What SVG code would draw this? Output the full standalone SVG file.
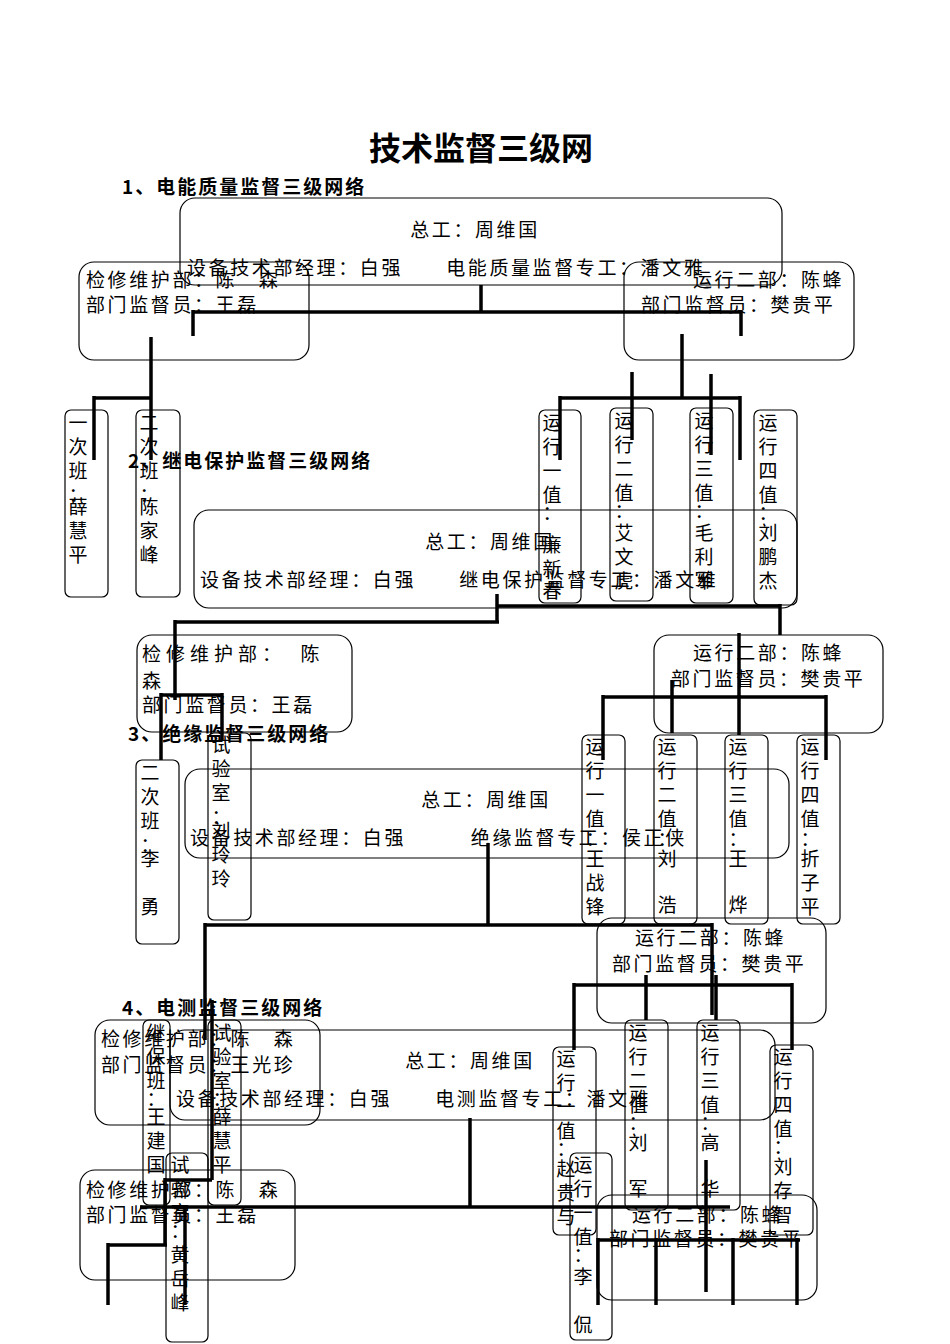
<svg xmlns="http://www.w3.org/2000/svg" width="950" height="1344" viewBox="0 0 950 1344">
<style>
text{font-family:"Noto Sans CJK SC","Liberation Serif",serif;fill:#000}
.t{font-size:19px;letter-spacing:2.6px}
.h{font-size:19px;font-weight:bold}
.b{fill:none;stroke:#000;stroke-width:1.2}
.c line{stroke:#000;stroke-width:3.5}
.v{font-size:19px;text-anchor:middle}
</style>
<rect width="950" height="1344" fill="#fff"/>
<text x="481" y="160" style="font-size:32px;font-weight:bold;text-anchor:middle">技术监督三级网</text>
<text class="h" x="122" y="194" letter-spacing="2">1、电能质量监督三级网络</text>
<text class="h" x="128" y="468" letter-spacing="2">2、继电保护监督三级网络</text>
<text class="h" x="128" y="741" letter-spacing="2">3、绝缘监督三级网络</text>
<text class="h" x="122" y="1015" letter-spacing="2">4、电测监督三级网络</text>

<g id="n1a"><rect class="b" x="180" y="198" width="602" height="87" rx="15"/><text class="t" x="475" y="237" text-anchor="middle">总工：周维国</text><text class="t" x="187" y="275">设备技术部经理：白强　　电能质量监督专工：潘文雅</text></g>
<g id="n1b"><rect class="b" x="79" y="262" width="230" height="98" rx="15"/><text class="t" x="86" y="287">检修维护部：陈　森</text><text class="t" x="86" y="312">部门监督员：王磊</text></g>
<g id="n1c"><rect class="b" x="624" y="262" width="230" height="98" rx="15"/><text class="t" x="693" y="287">运行二部：陈蜂</text><text class="t" x="641" y="312">部门监督员：樊贵平</text></g>

<g id="n2a"><rect class="b" x="194" y="510" width="603" height="98" rx="15"/><text class="t" x="490" y="549" text-anchor="middle">总工：周维国</text><text class="t" x="200" y="587">设备技术部经理：白强　　继电保护监督专工：潘文雅</text></g>
<g id="n2b"><rect class="b" x="137" y="635" width="215" height="97" rx="15"/><text class="t" x="142" y="661" style="letter-spacing:5px">检修维护部：　陈</text><text class="t" x="142" y="688">森</text><text class="t" x="142" y="712">部门监督员：王磊</text></g>
<g id="n2c"><rect class="b" x="654" y="635" width="229" height="98" rx="15"/><text class="t" x="693" y="660">运行二部：陈蜂</text><text class="t" x="671" y="686">部门监督员：樊贵平</text></g>

<g id="n3a"><rect class="b" x="185" y="769" width="604" height="89" rx="15"/><text class="t" x="486" y="807" text-anchor="middle">总工：周维国</text><text class="t" x="190" y="845">设备技术部经理：白强　　　绝缘监督专工：侯正侠</text></g>
<g id="n3b"><rect class="b" x="597" y="918" width="229" height="105" rx="15"/><text class="t" x="635" y="945">运行二部：陈蜂</text><text class="t" x="612" y="971">部门监督员：樊贵平</text></g>

<g id="n4a"><rect class="b" x="95" y="1020" width="225" height="105" rx="15"/><text class="t" x="101" y="1046">检修维护部：陈　森</text><text class="t" x="101" y="1072">部门监督员：王光珍</text></g>
<g id="n4b"><rect class="b" x="170" y="1030" width="605" height="90" rx="15"/><text class="t" x="470" y="1068" text-anchor="middle">总工：周维国</text><text class="t" x="176" y="1106">设备技术部经理：白强　　电测监督专工：潘文雅</text></g>
<g id="n4c"><rect class="b" x="80" y="1170" width="215" height="110" rx="15"/><text class="t" x="86" y="1197">检修维护部：陈　森</text><text class="t" x="86" y="1222">部门监督员：王磊</text></g>
<g id="n4d"><rect class="b" x="597" y="1195" width="220" height="105" rx="15"/><text class="t" x="632" y="1222">运行二部：陈蜂</text><text class="t" x="609" y="1246">部门监督员：樊贵平</text></g>

<g id="vboxes">
<g id="v1"><rect class="b" x="65" y="410" width="43" height="187" rx="6"/><text class="v"><tspan x="78" y="430">一</tspan><tspan x="78" y="454">次</tspan><tspan x="78" y="478">班</tspan><tspan x="78" y="502">：</tspan><tspan x="78" y="514">薛</tspan><tspan x="78" y="538">慧</tspan><tspan x="78" y="562">平</tspan></text></g>
<g id="v2"><rect class="b" x="136" y="410" width="44" height="187" rx="6"/><text class="v"><tspan x="149" y="430">二</tspan><tspan x="149" y="454">次</tspan><tspan x="149" y="478">班</tspan><tspan x="149" y="502">：</tspan><tspan x="149" y="514">陈</tspan><tspan x="149" y="538">家</tspan><tspan x="149" y="562">峰</tspan></text></g>
<g id="v3"><rect class="b" x="539" y="410" width="42" height="193" rx="6"/><text class="v"><tspan x="552" y="430">运</tspan><tspan x="552" y="454">行</tspan><tspan x="552" y="478">一</tspan><tspan x="552" y="502">值</tspan><tspan x="552" y="520">：</tspan><tspan x="552" y="552">廉</tspan><tspan x="552" y="576">新</tspan><tspan x="552" y="598">春</tspan></text></g>
<g id="v4"><rect class="b" x="610" y="408" width="43" height="193" rx="6"/><text class="v"><tspan x="624" y="428">运</tspan><tspan x="624" y="452">行</tspan><tspan x="624" y="476">二</tspan><tspan x="624" y="500">值</tspan><tspan x="624" y="518">：</tspan><tspan x="624" y="540">艾</tspan><tspan x="624" y="564">文</tspan><tspan x="624" y="588">虎</tspan></text></g>
<g id="v5"><rect class="b" x="690" y="408" width="43" height="195" rx="6"/><text class="v"><tspan x="704" y="428">运</tspan><tspan x="704" y="452">行</tspan><tspan x="704" y="476">三</tspan><tspan x="704" y="500">值</tspan><tspan x="704" y="518">：</tspan><tspan x="704" y="540">毛</tspan><tspan x="704" y="564">利</tspan><tspan x="704" y="588">军</tspan></text></g>
<g id="v6"><rect class="b" x="754" y="410" width="43" height="195" rx="6"/><text class="v"><tspan x="768" y="430">运</tspan><tspan x="768" y="454">行</tspan><tspan x="768" y="478">四</tspan><tspan x="768" y="502">值</tspan><tspan x="768" y="520">：</tspan><tspan x="768" y="540">刘</tspan><tspan x="768" y="564">鹏</tspan><tspan x="768" y="588">杰</tspan></text></g>

<g id="v7"><rect class="b" x="136" y="760" width="43" height="184" rx="6"/><text class="v"><tspan x="150" y="780">二</tspan><tspan x="150" y="804">次</tspan><tspan x="150" y="828">班</tspan><tspan x="150" y="852">：</tspan><tspan x="150" y="866">李</tspan><tspan x="150" y="914">勇</tspan></text></g>
<g id="v8"><rect class="b" x="208" y="733" width="43" height="187" rx="6"/><text class="v"><tspan x="221" y="752">试</tspan><tspan x="221" y="776">验</tspan><tspan x="221" y="800">室</tspan><tspan x="221" y="824">：</tspan><tspan x="221" y="838">刘</tspan><tspan x="221" y="862">玲</tspan><tspan x="221" y="886">玲</tspan></text></g>
<g id="v9"><rect class="b" x="582" y="735" width="43" height="189" rx="6"/><text class="v"><tspan x="595" y="754">运</tspan><tspan x="595" y="778">行</tspan><tspan x="595" y="802">一</tspan><tspan x="595" y="826">值</tspan><tspan x="595" y="846">：</tspan><tspan x="595" y="866">王</tspan><tspan x="595" y="890">战</tspan><tspan x="595" y="914">锋</tspan></text></g>
<g id="v10"><rect class="b" x="654" y="735" width="43" height="189" rx="6"/><text class="v"><tspan x="667" y="754">运</tspan><tspan x="667" y="778">行</tspan><tspan x="667" y="802">二</tspan><tspan x="667" y="826">值</tspan><tspan x="667" y="846">：</tspan><tspan x="667" y="866">刘</tspan><tspan x="667" y="912">浩</tspan></text></g>
<g id="v11"><rect class="b" x="725" y="735" width="43" height="189" rx="6"/><text class="v"><tspan x="738" y="754">运</tspan><tspan x="738" y="778">行</tspan><tspan x="738" y="802">三</tspan><tspan x="738" y="826">值</tspan><tspan x="738" y="846">：</tspan><tspan x="738" y="866">王</tspan><tspan x="738" y="912">烨</tspan></text></g>
<g id="v12"><rect class="b" x="797" y="735" width="43" height="189" rx="6"/><text class="v"><tspan x="810" y="754">运</tspan><tspan x="810" y="778">行</tspan><tspan x="810" y="802">四</tspan><tspan x="810" y="826">值</tspan><tspan x="810" y="846">：</tspan><tspan x="810" y="866">折</tspan><tspan x="810" y="890">子</tspan><tspan x="810" y="914">平</tspan></text></g>

<g id="v13"><rect class="b" x="143" y="1020" width="27" height="185" rx="6"/><text class="v"><tspan x="156" y="1040">继</tspan><tspan x="156" y="1064">保</tspan><tspan x="156" y="1088">班</tspan><tspan x="156" y="1106">：</tspan><tspan x="156" y="1124">王</tspan><tspan x="156" y="1148">建</tspan><tspan x="156" y="1172">国</tspan></text></g>
<g id="v14"><rect class="b" x="208" y="1020" width="33" height="185" rx="6"/><text class="v"><tspan x="222" y="1040">试</tspan><tspan x="222" y="1064">验</tspan><tspan x="222" y="1088">室</tspan><tspan x="222" y="1106">：</tspan><tspan x="222" y="1124">薛</tspan><tspan x="222" y="1148">慧</tspan><tspan x="222" y="1172">平</tspan></text></g>
<g id="v15"><rect class="b" x="166" y="1153" width="42" height="189" rx="6"/><text class="v"><tspan x="180" y="1172">试</tspan><tspan x="180" y="1196">验</tspan><tspan x="180" y="1220">室</tspan><tspan x="180" y="1238">：</tspan><tspan x="180" y="1262">黄</tspan><tspan x="180" y="1286">岳</tspan><tspan x="180" y="1310">峰</tspan></text></g>
<g id="v16"><rect class="b" x="553" y="1047" width="43" height="188" rx="6"/><text class="v"><tspan x="566" y="1066">运</tspan><tspan x="566" y="1090">行</tspan><tspan x="566" y="1114">一</tspan><tspan x="566" y="1138">值</tspan><tspan x="566" y="1156">：</tspan><tspan x="566" y="1176">赵</tspan><tspan x="566" y="1200">贵</tspan><tspan x="566" y="1224">与</tspan></text></g>
<g id="v17"><rect class="b" x="570" y="1153" width="42" height="187" rx="6"/><text class="v"><tspan x="583" y="1172">运</tspan><tspan x="583" y="1196">行</tspan><tspan x="583" y="1220">一</tspan><tspan x="583" y="1244">值</tspan><tspan x="583" y="1262">：</tspan><tspan x="583" y="1284">李</tspan><tspan x="583" y="1332">侃</tspan></text></g>
<g id="v18"><rect class="b" x="625" y="1020" width="43" height="190" rx="6"/><text class="v"><tspan x="638" y="1040">运</tspan><tspan x="638" y="1064">行</tspan><tspan x="638" y="1088">二</tspan><tspan x="638" y="1112">值</tspan><tspan x="638" y="1130">：</tspan><tspan x="638" y="1150">刘</tspan><tspan x="638" y="1196">军</tspan></text></g>
<g id="v19"><rect class="b" x="697" y="1020" width="43" height="190" rx="6"/><text class="v"><tspan x="710" y="1040">运</tspan><tspan x="710" y="1064">行</tspan><tspan x="710" y="1088">三</tspan><tspan x="710" y="1112">值</tspan><tspan x="710" y="1130">：</tspan><tspan x="710" y="1150">高</tspan><tspan x="710" y="1196">华</tspan></text></g>
<g id="v20"><rect class="b" x="770" y="1045" width="43" height="190" rx="6"/><text class="v"><tspan x="783" y="1064">运</tspan><tspan x="783" y="1088">行</tspan><tspan x="783" y="1112">四</tspan><tspan x="783" y="1136">值</tspan><tspan x="783" y="1154">：</tspan><tspan x="783" y="1174">刘</tspan><tspan x="783" y="1198">存</tspan><tspan x="783" y="1222">智</tspan></text></g>
</g>

<g id="connectors" class="c">
<line x1="481" y1="285" x2="481" y2="312"/><line x1="193" y1="312" x2="741" y2="312"/><line x1="193" y1="310" x2="193" y2="336"/><line x1="741" y1="310" x2="741" y2="336"/>
<line x1="151" y1="337" x2="151" y2="460"/><line x1="94" y1="398" x2="151" y2="398"/><line x1="94" y1="396" x2="94" y2="460"/>
<line x1="682" y1="334" x2="682" y2="398"/><line x1="560" y1="398" x2="740" y2="398"/><line x1="560" y1="396" x2="560" y2="460"/><line x1="740" y1="396" x2="740" y2="460"/>
<line x1="632" y1="372" x2="632" y2="440"/><line x1="711" y1="374" x2="711" y2="455"/>
<line x1="497" y1="594" x2="497" y2="622"/><line x1="497" y1="606" x2="780" y2="606"/><line x1="780" y1="604" x2="780" y2="635"/><line x1="175" y1="622" x2="499" y2="622"/><line x1="175" y1="620" x2="175" y2="700"/>
<line x1="161" y1="695" x2="222" y2="695"/><line x1="161" y1="693" x2="161" y2="760"/><line x1="222" y1="693" x2="222" y2="740"/>
<line x1="739" y1="633" x2="739" y2="697"/><line x1="603" y1="697" x2="826" y2="697"/><line x1="603" y1="695" x2="603" y2="760"/><line x1="826" y1="695" x2="826" y2="760"/><line x1="672" y1="680" x2="672" y2="733"/><line x1="739" y1="695" x2="739" y2="735"/>
<line x1="488" y1="843" x2="488" y2="925"/><line x1="205" y1="925" x2="712" y2="925"/><line x1="205" y1="923" x2="205" y2="1040"/><line x1="712" y1="923" x2="712" y2="1015"/><line x1="716" y1="975" x2="716" y2="1020"/>
<line x1="574" y1="985" x2="792" y2="985"/><line x1="574" y1="983" x2="574" y2="1050"/><line x1="646" y1="975" x2="646" y2="1020"/><line x1="792" y1="983" x2="792" y2="1050"/>
<line x1="470" y1="1118" x2="470" y2="1207"/><line x1="140" y1="1207" x2="730" y2="1207"/>
<line x1="212" y1="1000" x2="212" y2="1180"/><line x1="165" y1="1180" x2="212" y2="1180"/><line x1="165" y1="1178" x2="165" y2="1245"/><line x1="185" y1="1205" x2="185" y2="1305"/>
<line x1="108" y1="1245" x2="167" y2="1245"/><line x1="108" y1="1243" x2="108" y2="1305"/>
<line x1="706" y1="1160" x2="706" y2="1292"/><line x1="598" y1="1240" x2="800" y2="1240"/><line x1="598" y1="1238" x2="598" y2="1305"/><line x1="656" y1="1238" x2="656" y2="1305"/><line x1="733" y1="1238" x2="733" y2="1305"/><line x1="797" y1="1238" x2="797" y2="1305"/>
</g>
</svg>
